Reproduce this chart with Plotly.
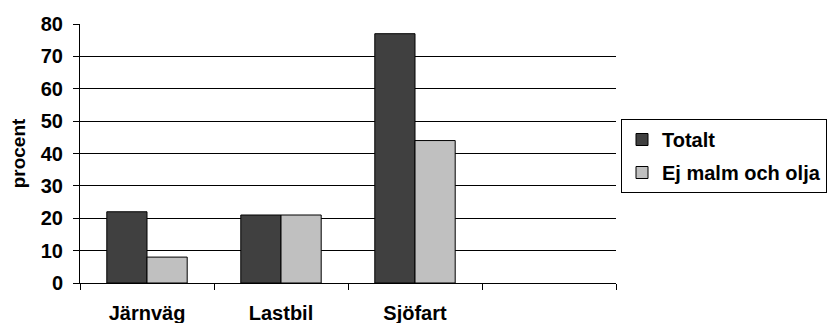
import plotly.graph_objects as go

# Transport modes (the fourth slot is left empty on purpose)
categories = ["Järnväg", "Lastbil", "Sjöfart", " "]
totalt = [22, 21, 77, None]
ej_malm_och_olja = [8, 21, 44, None]
y_ticks = [0, 10, 20, 30, 40, 50, 60, 70, 80]

FONT = "Liberation Sans, Arial, sans-serif"

fig = go.Figure()
fig.add_trace(go.Bar(
    name="Totalt", x=categories, y=totalt,
    marker=dict(color="#404040", line=dict(color="#000000", width=1)),
    legendgroup="a",
))
fig.add_trace(go.Bar(
    name="Ej malm och olja", x=categories, y=ej_malm_och_olja,
    marker=dict(color="#c0c0c0", line=dict(color="#000000", width=1)),
    legendgroup="b",
))

fig.update_layout(
    width=828, height=323,
    margin=dict(l=80, r=212, t=24, b=40, autoexpand=False),
    paper_bgcolor="white", plot_bgcolor="white",
    barmode="group", bargap=0.4, bargroupgap=0,
    font=dict(family=FONT, size=20, color="#000000", weight="bold"),
    showlegend=True,
    legend=dict(
        xref="container", yref="container",
        x=621 / 828, y=1 - 119 / 323, xanchor="left", yanchor="top",
        bordercolor="#000000", borderwidth=1,
        font=dict(family=FONT, size=20, color="#000000", weight="bold"),
        tracegroupgap=4, itemwidth=30,
        bgcolor="white",
    ),
)

fig.update_xaxes(
    type="category", categoryorder="array", categoryarray=categories,
    range=[-0.5, 3.5],
    tickson="boundaries", ticks="outside", ticklen=6, tickcolor="#000000",
    showline=True, linecolor="#000000", linewidth=1,
    showgrid=False, ticklabelstandoff=12,
    tickfont=dict(family=FONT, size=20, color="#000000", weight="bold"),
)
fig.update_yaxes(
    range=[0, 80], tickvals=y_ticks,
    ticks="outside", ticklen=6, tickcolor="#000000",
    showline=True, linecolor="#000000", linewidth=1,
    showgrid=True, gridcolor="#000000", gridwidth=1,
    zeroline=False, ticklabelstandoff=6,
    tickfont=dict(family=FONT, size=20, color="#000000", weight="bold"),
    title=dict(text="procent", standoff=10,
               font=dict(family=FONT, size=19, color="#000000", weight="bold")),
)

fig.write_html("out.html")
